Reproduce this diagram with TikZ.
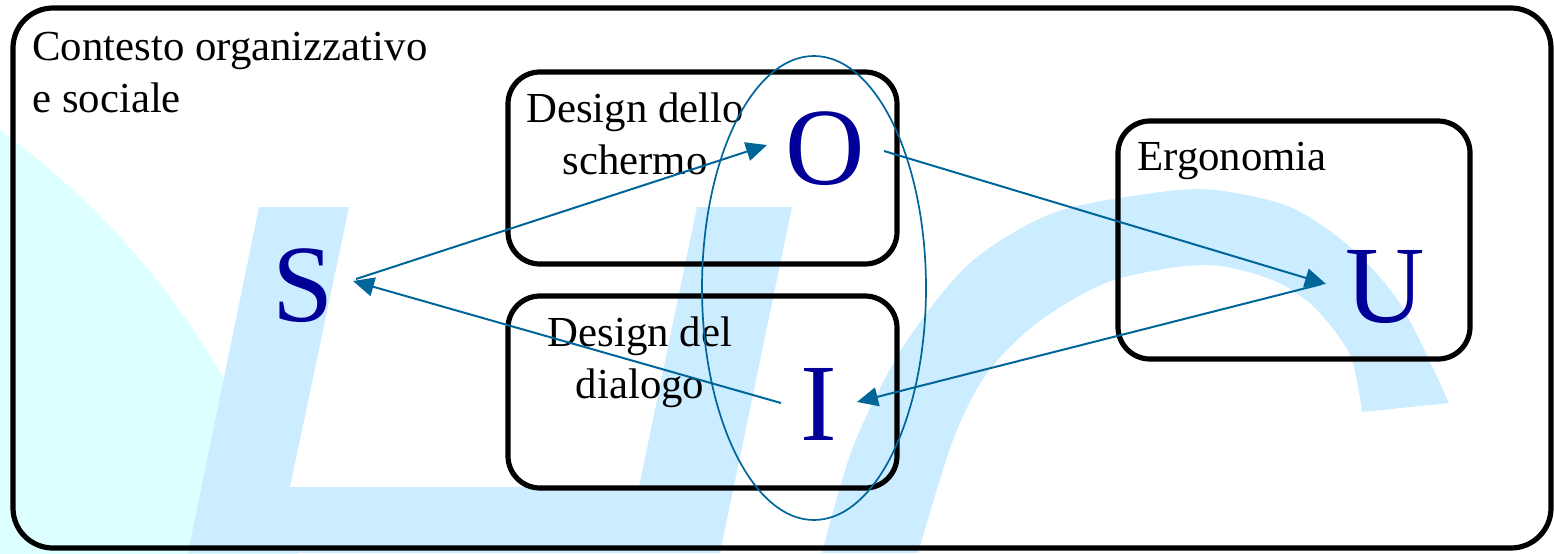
\documentclass[tikz,border=0pt]{standalone}
\usepackage{fontspec}
\setmainfont{Liberation Serif}
\usetikzlibrary{arrows.meta}
\definecolor{arrowblue}{HTML}{006699}
\definecolor{letterblue}{HTML}{000099}
\definecolor{paleblue}{HTML}{CCECFF}
\definecolor{palecyan}{HTML}{DDFFFF}
\begin{document}
\begin{tikzpicture}[x=0.5pt,y=-0.5pt,
  frame/.style={draw=black, line width=2.6pt, rounded corners=20pt},
  box/.style={draw=black, line width=2.6pt, rounded corners=16pt},
  lbl/.style={inner sep=0pt, font=\fontsize{21.4}{26}\selectfont},
  big/.style={inner sep=0pt, text=letterblue, font=\fontsize{55}{60}\selectfont, anchor=base},
  link/.style={draw=arrowblue, line width=1pt, -{Triangle[length=10.5pt,width=9.5pt]}},
  ring/.style={draw=arrowblue, line width=0.85pt}]
\useasboundingbox (0,0) rectangle (1554,553);
% background logo shapes
\begin{scope}
\clip (0,0) rectangle (1554,553);
\fill[palecyan] (-465,774) circle [radius=794];
\fill[paleblue] (259,207) -- (349,207) -- (290,487) -- (639,487) -- (697,207) -- (792,207) -- (720,553) -- (188,553) -- cycle;
\fill[paleblue] plot[smooth] coordinates {(822,553) (853,447) (903,347) (970,263) (1053,213) (1153,193) (1215,190) (1290,207) (1350,247) (1401,305) (1449,403)}
  -- plot[smooth] coordinates {(1362,412) (1350,355) (1315,308) (1275,281) (1220,266) (1170,268) (1103,284) (1037,323) (987,373) (953,440) (918,553)} -- cycle;
\end{scope}
% frame and boxes
\draw[frame] (13,8) rectangle (1551,548);
\draw[box] (508,72) rectangle (897,264);
\draw[box] (508,296) rectangle (897,488);
\draw[box] (1118,121) rectangle (1470,359);
% labels
\node[lbl, anchor=base west] (ctx) at (32,60) {\begin{tabular}[t]{@{}l@{}}Contesto organizzativo\\ e sociale\end{tabular}};
\node[lbl, anchor=base] (scr) at (635,122) {\begin{tabular}[t]{@{}c@{}}Design dello\\ schermo\end{tabular}};
\node[lbl, anchor=base] (dia) at (640,346) {\begin{tabular}[t]{@{}c@{}}Design del\\ dialogo\end{tabular}};
\node[lbl, anchor=base west] (erg) at (1137,170) {Ergonomia};
% letters
\node[big] (S) at (303,321) {S};
\node[big] (O) at (825,184) {O};
\node[big] (I) at (819,440) {I};
\node[big] (U) at (1385,322) {U};
% ellipse
\coordinate (ell) at (814,288);
\draw[ring] (ell) ellipse [x radius=112, y radius=232];
% connectors
\coordinate (sa) at (356,279);
\coordinate (ot) at (767,145);
\coordinate (ia) at (781,403);
\coordinate (st) at (353,281);
\coordinate (oa) at (884,151);
\coordinate (ut) at (1326,284);
\coordinate (ua) at (1322,284);
\coordinate (it) at (857,402);
\draw[link] (sa) -- (ot);
\draw[link] (ia) -- (st);
\draw[link] (oa) -- (ut);
\draw[link] (ua) -- (it);
\end{tikzpicture}
\end{document}
